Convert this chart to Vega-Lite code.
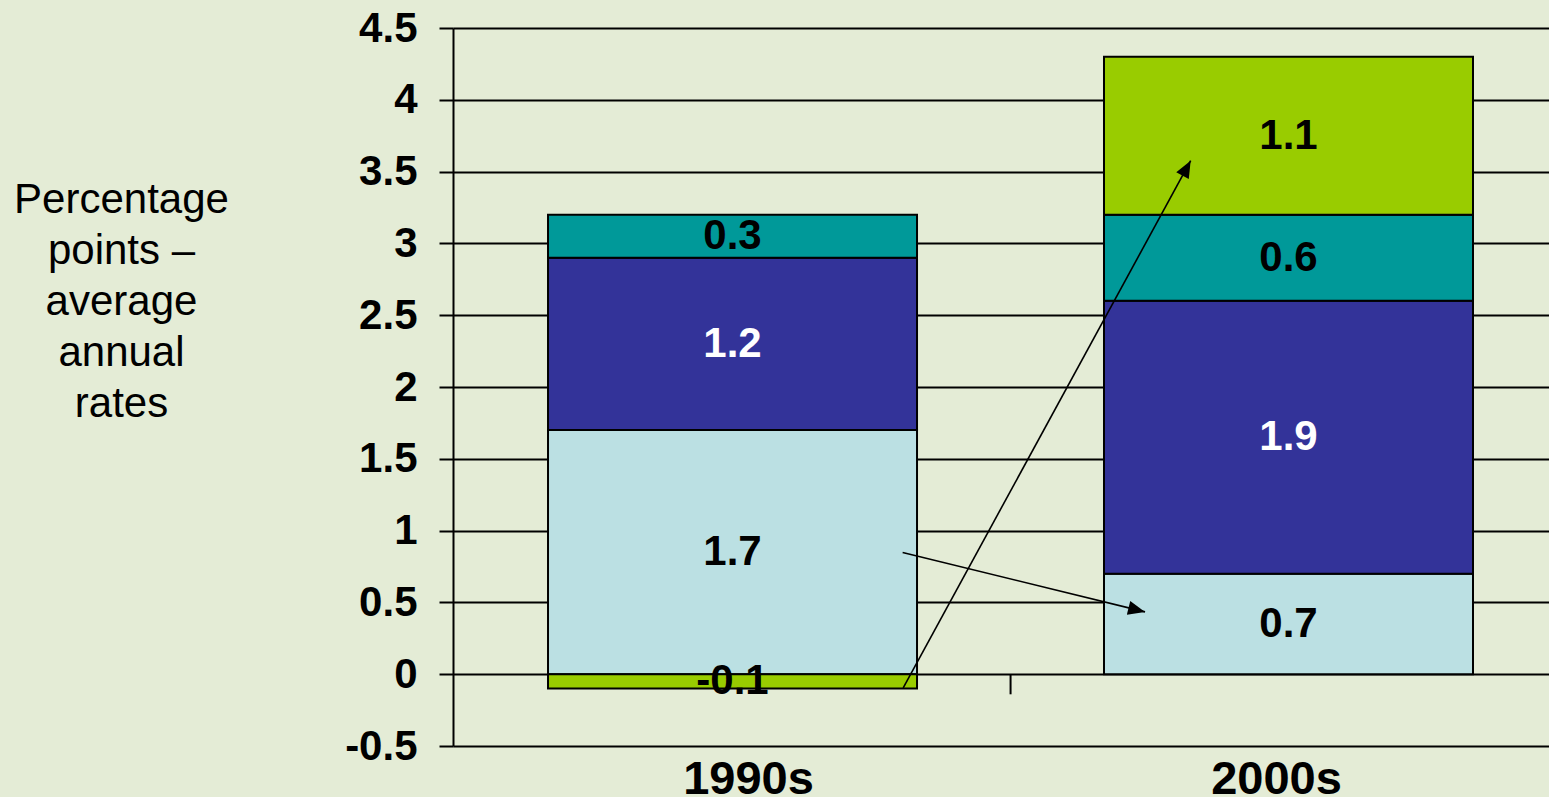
{
  "$schema": "https://vega.github.io/schema/vega-lite/v6.json",
  "width": 1096,
  "height": 718,
  "autosize": {"type": "none"},
  "padding": {"left": 453, "top": 28, "right": 0, "bottom": 51},
  "background": "#E4ECD6",
  "config": {
    "view": {"stroke": null},
    "font": "Liberation Sans",
    "text": {"font": "Liberation Sans"}
  },
  "layer": [
    {
      "data": {
        "values": [
          {"decade": "1990s", "series": "s1", "value": 1.7},
          {"decade": "1990s", "series": "s2", "value": 1.2},
          {"decade": "1990s", "series": "s3", "value": 0.3},
          {"decade": "1990s", "series": "s4", "value": -0.1},
          {"decade": "2000s", "series": "s1", "value": 0.7},
          {"decade": "2000s", "series": "s2", "value": 1.9},
          {"decade": "2000s", "series": "s3", "value": 0.6},
          {"decade": "2000s", "series": "s4", "value": 1.1}
        ]
      },
      "transform": [
        {"stack": "value", "groupby": ["decade"], "sort": [{"field": "series", "order": "ascending"}], "as": ["v0", "v1"]},
        {"calculate": "(datum.v0 + datum.v1) / 2", "as": "mid"}
      ],
      "layer": [
        {
          "mark": {"type": "bar", "stroke": "black", "strokeWidth": 2},
          "encoding": {
            "x": {
              "field": "decade",
              "type": "nominal",
              "sort": null,
              "scale": {"paddingInner": 0.3363, "paddingOuter": 0.1538, "align": 0.5556},
              "axis": {
                "title": null,
                "labelAngle": 0,
                "labelFontSize": 47,
                "labelFontWeight": "bold",
                "labelColor": "black",
                "labelFont": "Liberation Sans",
                "labelOffset": {"condition": {"test": "datum.value === '1990s'", "value": 16}, "value": -12},
                "domain": false,
                "ticks": false,
                "tickSize": 0,
                "grid": false,
                "labelPadding": 47,
                "labelBaseline": "alphabetic"
              }
            },
            "y": {
              "field": "v0",
              "type": "quantitative",
              "scale": {"domain": [-0.5, 4.5], "nice": false, "zero": false},
              "axis": {
                "values": [-0.5, 0, 0.5, 1, 1.5, 2, 2.5, 3, 3.5, 4, 4.5],
                "labelExpr": "'' + datum.value",
                "labelFont": "Liberation Sans",
                "labelFontSize": 42,
                "labelFontWeight": "bold",
                "labelColor": "black",
                "labelPadding": 22,
                "tickSize": 14,
                "tickColor": "black",
                "tickWidth": 2,
                "domainColor": "black",
                "domainWidth": 2,
                "grid": true,
                "gridColor": "black",
                "gridWidth": 2,
                "gridOpacity": 1,
                "title": ["Percentage", "points –", "average", "annual", "rates"],
                "titleAngle": 0,
                "titleX": -332,
                "titleY": 184,
                "titleAlign": "center",
                "titleBaseline": "alphabetic",
                "titleFont": "Liberation Sans",
                "titleFontSize": 42,
                "titleFontWeight": "normal",
                "titleLineHeight": 51,
                "titleColor": "black"
              }
            },
            "y2": {"field": "v1"},
            "color": {
              "field": "series",
              "type": "nominal",
              "scale": {"domain": ["s1", "s2", "s3", "s4"], "range": ["#BBE0E3", "#333399", "#009999", "#99CC00"]},
              "legend": null
            }
          }
        },
        {
          "mark": {"type": "text", "fontSize": 42, "fontWeight": "bold", "baseline": "middle", "align": "center", "font": "Liberation Sans"},
          "encoding": {
            "x": {"field": "decade", "type": "nominal", "sort": null},
            "y": {"field": "mid", "type": "quantitative"},
            "text": {"field": "value", "type": "nominal"},
            "color": {"condition": {"test": "datum.series === 's2'", "value": "white"}, "value": "black"}
          }
        },
        {
          "data": {"values": [{"decade": "1990s"}]},
          "mark": {"type": "rule", "stroke": "black", "strokeWidth": 2},
          "encoding": {
            "x": {"field": "decade", "type": "nominal", "bandPosition": 1.2535},
            "y": {"datum": 0},
            "y2": {"datum": -0.14}
          }
        }
      ]
    },
    {
      "data": {
        "values": [
          {"arrow": "a", "x": 0.306, "y": 0.848, "x2": 0.742, "y2": 0.434},
          {"arrow": "b", "x": 0.307, "y": -0.095, "x2": 0.824, "y2": 3.576}
        ]
      },
      "layer": [
        {
          "mark": {"type": "rule", "stroke": "black", "strokeWidth": 1.6},
          "encoding": {
            "x": {"field": "x", "type": "quantitative", "scale": {"domain": [-0.5027, 1.4685], "nice": false, "zero": false}, "axis": null},
            "y": {"field": "y", "type": "quantitative", "scale": {"domain": [-0.5, 4.5], "nice": false, "zero": false}, "axis": null},
            "x2": {"field": "x2"},
            "y2": {"field": "y2"}
          }
        },
        {
          "transform": [{"filter": "datum.arrow === 'a'"}],
          "mark": {"type": "point", "shape": "M0,0L-0.42,1L0.42,1Z", "size": 1156, "filled": true, "color": "black", "opacity": 1, "strokeWidth": 0, "angle": 103.8},
          "encoding": {
            "x": {"field": "x2", "type": "quantitative"},
            "y": {"field": "y2", "type": "quantitative", "axis": null}
          }
        },
        {
          "transform": [{"filter": "datum.arrow === 'b'"}],
          "mark": {"type": "point", "shape": "M0,0L-0.42,1L0.42,1Z", "size": 1156, "filled": true, "color": "black", "opacity": 1, "strokeWidth": 0, "angle": 28.6},
          "encoding": {
            "x": {"field": "x2", "type": "quantitative"},
            "y": {"field": "y2", "type": "quantitative", "axis": null}
          }
        }
      ]
    }
  ],
  "resolve": {"scale": {"x": "independent"}, "axis": {"y": "independent"}}
}
